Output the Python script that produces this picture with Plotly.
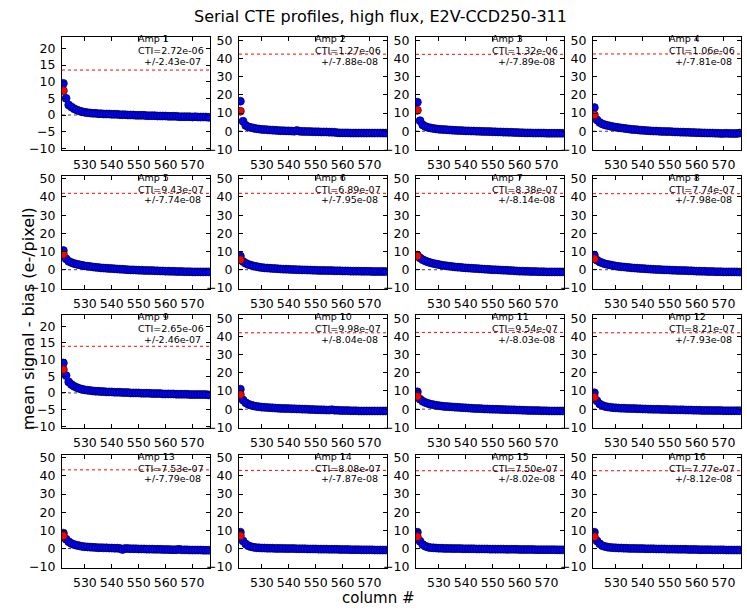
import plotly.graph_objects as go
from plotly.subplots import make_subplots

COLUMNS = list(range(522, 577))

AMP_LABELS = [f"Amp {i}" for i in range(1, 17)]
CTI = ["2.72e-06", "1.27e-06", "1.32e-06", "1.06e-06",
       "9.43e-07", "6.89e-07", "8.38e-07", "7.74e-07",
       "2.65e-06", "9.98e-07", "9.54e-07", "8.21e-07",
       "7.53e-07", "8.08e-07", "7.50e-07", "7.77e-07"]
CTI_ERR = ["2.43e-07", "7.88e-08", "7.89e-08", "7.81e-08",
           "7.74e-08", "7.95e-08", "8.14e-08", "7.98e-08",
           "2.46e-07", "8.04e-08", "8.03e-08", "7.93e-08",
           "7.79e-08", "7.87e-08", "8.02e-08", "8.12e-08"]

amp1 = [9.5,5.0,3.0,2.4,1.9,1.5,1.2,1.0,0.8,0.7, 0.6,0.5,0.5,0.4,0.4,0.3,0.3,0.3,0.2,0.2,
        0.2,0.1,0.1,0.1,0.0,0.0,0.0,-0.1,-0.1,-0.1, -0.1,-0.2,-0.2,-0.2,-0.2,-0.3,-0.3,-0.3,-0.3,-0.4,
        -0.4,-0.4,-0.4,-0.5,-0.5,-0.5,-0.5,-0.5,-0.6,-0.5, -0.6,-0.6,-0.6,-0.6,-0.7]
amp2 = [16.5,5.5,3.2,2.4,2.0,1.7,1.4,1.2,1.0,0.9, 0.8,0.7,0.6,0.5,0.4,0.3,0.3,0.2,0.2,0.1,
        0.0,0.4,0.0,-0.1,-0.1,-0.2,-0.2,-0.3,-0.3,-0.3, -0.4,-0.4,-0.4,-0.5,-0.5,-0.6,-0.8,-0.9,-0.9,-0.9,
        -0.9,-1.0,-1.0,-1.0,-1.0,-1.0,-1.0,-1.0,-1.0,-1.0, -1.0,-1.0,-1.0,-1.0,-1.0]
amp3 = [16.0,5.8,3.5,2.6,2.1,1.8,1.5,1.3,1.1,1.0, 0.9,0.8,0.7,0.6,0.5,0.4,0.4,0.3,0.2,0.2,
        0.1,0.1,0.0,0.0,-0.1,-0.1,-0.2,-0.2,-0.3,-0.3, -0.4,-0.4,-0.5,-0.5,-0.6,-0.6,-0.7,-0.7,-0.8,-0.8,
        -0.9,-0.9,-0.9,-1.0,-1.0,-1.0,-1.0,-1.0,-1.1,-1.1, -1.1,-1.1,-1.1,-1.1,-1.1]
amp4 = [13.0,6.2,4.8,4.0,3.5,3.1,2.8,2.5,2.2,2.0, 1.8,1.6,1.4,1.2,1.0,0.9,0.8,0.6,0.5,0.4,
        0.3,0.2,0.1,0.1,0.0,-0.1,-0.1,-0.2,-0.2,-0.3, -0.4,-0.4,-0.5,-0.5,-0.6,-0.6,-0.7,-0.7,-0.8,-0.8,
        -0.9,-0.9,-1.0,-1.0,-1.0,-1.1,-1.1,-1.2,-1.2,-1.1, -1.2,-1.2,-1.3,-1.2,-1.0]
amp5 = [10.5,6.0,4.6,3.9,3.4,3.0,2.7,2.4,2.1,1.9, 1.7,1.5,1.3,1.2,1.0,0.9,0.8,0.7,0.6,0.5,
        0.4,0.3,0.2,0.1,0.0,-0.1,-0.1,-0.2,-0.3,-0.3, -0.4,-0.4,-0.5,-0.5,-0.6,-0.6,-0.7,-0.7,-0.8,-0.8,
        -0.9,-0.9,-1.0,-1.0,-1.0,-1.1,-1.1,-1.1,-1.2,-1.2, -1.2,-1.2,-1.2,-1.2,-1.2]
amp6 = [7.5,4.5,3.5,2.9,2.4,2.0,1.7,1.4,1.2,1.0, 0.9,0.8,0.7,0.6,0.5,0.4,0.3,0.3,0.2,0.1,
        0.1,0.0,0.0,-0.1,-0.1,-0.2,-0.2,-0.3,-0.3,-0.4, -0.4,-0.4,-0.5,-0.5,-0.5,-0.6,-0.6,-0.6,-0.7,-0.7,
        -0.7,-0.8,-0.8,-0.8,-0.8,-0.9,-0.9,-0.9,-0.9,-1.0, -1.0,-1.0,-1.0,-1.0,-1.0]
amp7 = [8.0,6.5,5.5,4.8,4.2,3.8,3.4,3.1,2.8,2.5, 2.3,2.1,1.9,1.7,1.5,1.4,1.3,1.1,1.0,0.9,
        0.8,0.7,0.6,0.5,0.4,0.3,0.2,0.1,0.0,0.0, -0.1,-0.2,-0.3,-0.3,-0.4,-0.5,-0.6,-0.7,-0.8,-0.8,
        -0.9,-0.9,-1.0,-1.0,-1.0,-1.1,-1.1,-1.1,-1.2,-1.2, -1.2,-1.2,-1.2,-1.2,-1.2]
amp8 = [8.0,5.2,4.3,3.7,3.2,2.9,2.6,2.3,2.0,1.8, 1.6,1.5,1.3,1.2,1.0,0.9,0.8,0.7,0.6,0.5,
        0.4,0.3,0.2,0.1,0.1,0.0,-0.1,-0.1,-0.2,-0.3, -0.3,-0.4,-0.4,-0.5,-0.5,-0.6,-0.6,-0.7,-0.8,-0.8,
        -0.9,-0.9,-1.0,-1.0,-1.0,-1.1,-1.1,-1.1,-1.2,-1.2, -1.2,-1.2,-1.2,-1.2,-1.3]
amp9 = [9.0,5.2,3.3,2.5,2.0,1.6,1.3,1.1,0.9,0.8, 0.7,0.6,0.5,0.5,0.4,0.4,0.3,0.3,0.3,0.2,
        0.2,0.2,0.1,0.1,0.1,0.0,0.0,0.0,0.0,-0.1, -0.1,-0.1,-0.1,-0.2,-0.2,-0.2,-0.2,-0.3,-0.3,-0.3,
        -0.3,-0.3,-0.4,-0.4,-0.4,-0.4,-0.4,-0.5,-0.5,-0.5, -0.5,-0.5,-0.5,-0.5,-0.6]
amp10 = [11.0,5.0,3.5,2.7,2.2,1.8,1.5,1.3,1.1,1.0, 0.9,0.8,0.7,0.6,0.5,0.4,0.4,0.3,0.3,0.2,
         0.2,0.1,0.1,0.0,0.0,-0.1,-0.2,-0.2,-0.3,-0.3, -0.4,-0.4,-0.5,-0.5,-0.3,-0.6,-0.6,-0.7,-0.8,-0.8,
         -0.8,-0.9,-0.9,-0.9,-1.0,-1.0,-1.0,-1.0,-1.0,-1.0, -1.0,-1.0,-1.0,-1.0,-1.0]
amp11 = [9.5,5.5,4.3,3.6,3.1,2.7,2.4,2.1,1.9,1.7, 1.5,1.4,1.3,1.2,1.1,1.0,0.9,0.8,0.7,0.6,
         0.5,0.4,0.3,0.3,0.2,0.1,0.1,0.0,0.0,-0.1, -0.1,-0.2,-0.2,-0.3,-0.3,-0.4,-0.4,-0.5,-0.5,-0.6,
         -0.6,-0.7,-0.7,-0.8,-0.8,-0.8,-0.9,-0.9,-0.9,-1.0, -1.0,-1.0,-1.0,-1.0,-1.0]
amp12 = [9.0,4.5,2.8,2.0,1.5,1.2,1.0,0.8,0.7,0.6, 0.5,0.5,0.4,0.4,0.3,0.3,0.2,0.2,0.1,0.1,
         0.0,0.0,-0.1,-0.1,-0.1,-0.2,-0.2,-0.2,-0.3,-0.3, -0.3,-0.4,-0.4,-0.4,-0.5,-0.5,-0.5,-0.6,-0.6,-0.6,
         -0.7,-0.7,-0.7,-0.7,-0.8,-0.8,-0.8,-0.8,-0.9,-0.9, -0.9,-0.9,-0.9,-0.9,-0.9]
amp13 = [8.5,5.2,3.8,2.8,2.2,1.8,1.5,1.2,1.0,0.9, 0.8,0.7,0.6,0.5,0.5,0.4,0.4,0.3,0.3,0.2,
         0.2,0.1,-0.5,0.1,0.0,-0.1,-0.1,-0.1,-0.2,-0.2, -0.2,-0.3,-0.3,-0.3,-0.4,-0.4,-0.4,-0.5,-0.5,-0.5,
         -0.6,-0.6,-0.6,-0.4,-0.7,-0.7,-0.7,-0.8,-0.8,-0.8, -0.8,-0.8,-0.9,-0.9,-0.9]
amp14 = [9.0,4.2,2.5,1.5,1.0,0.7,0.5,0.4,0.3,0.3, 0.2,0.2,0.2,0.1,0.1,0.1,0.1,0.0,0.0,0.0,
         0.0,-0.1,-0.1,-0.1,-0.1,-0.2,-0.2,-0.2,-0.2,-0.3, -0.3,-0.3,-0.3,-0.4,-0.4,-0.4,-0.4,-0.5,-0.5,-0.5,
         -0.5,-0.6,-0.6,-0.6,-0.6,-0.7,-0.7,-0.7,-0.7,-0.7, -0.8,-0.8,-0.8,-0.8,-0.8]
amp15 = [9.0,4.0,2.2,1.3,0.8,0.5,0.4,0.3,0.2,0.2, 0.1,0.1,0.1,0.0,0.0,0.0,0.0,-0.1,-0.1,-0.1,
         -0.1,-0.1,-0.2,-0.2,-0.2,-0.2,-0.2,-0.3,-0.3,-0.3, -0.3,-0.3,-0.3,-0.4,-0.4,-0.4,-0.4,-0.4,-0.5,-0.5,
         -0.5,-0.5,-0.5,-0.5,-0.6,-0.6,-0.6,-0.6,-0.6,-0.6, -0.6,-0.6,-0.7,-0.7,-0.7]
amp16 = [9.0,4.2,2.6,1.6,1.1,0.8,0.6,0.5,0.4,0.3, 0.3,0.2,0.2,0.1,0.1,0.1,0.0,0.0,0.0,-0.1,
         -0.1,-0.1,-0.1,-0.2,-0.2,-0.2,-0.2,-0.3,-0.3,-0.3, -0.3,-0.4,-0.4,-0.4,-0.4,-0.5,-0.5,-0.5,-0.5,-0.6,
         -0.6,-0.6,-0.6,-0.6,-0.7,-0.7,-0.7,-0.7,-0.7,-0.8, -0.8,-0.8,-0.8,-0.8,-0.8]

PROFILES = [amp1, amp2, amp3, amp4, amp5, amp6, amp7, amp8,
            amp9, amp10, amp11, amp12, amp13, amp14, amp15, amp16]

# predicted value at the last imaging column (red point)
RED_COLUMN = 522
RED_VALUES = [7.3, 11.0, 11.5, 9.0, 8.5, 5.5, 7.5, 6.0,
              7.0, 8.0, 7.0, 6.5, 7.0, 7.0, 6.5, 6.5]
# red dotted reference level
RED_LEVELS = [13.5, 42.4, 42.3, 42.5, 42.0, 42.0, 42.0, 41.8,
              14.0, 42.0, 42.2, 42.0, 43.3, 43.0, 42.8, 42.8]

SMALL_RANGE = [-10.6, 23.3]
LARGE_RANGE = [-10.5, 51.6]
X_RANGE = [521.5, 576.5]

W, H = 747, 611
COL_LEFT = [62, 239, 416, 593]
PANEL_W = 148
ROW_TOP = [33, 174, 316, 458]
PANEL_H = 115

FONT = "DejaVu Sans"

fig = make_subplots(rows=4, cols=4)

for i in range(16):
    r, c = i // 4 + 1, i % 4 + 1
    small = RED_LEVELS[i] < 20
    yr = SMALL_RANGE if small else LARGE_RANGE
    # zero line
    fig.add_trace(go.Scatter(x=X_RANGE, y=[0, 0], mode="lines",
                             line=dict(color="#444444", width=1, dash="dot"),
                             showlegend=False, hoverinfo="skip"), row=r, col=c)
    # red reference level
    fig.add_trace(go.Scatter(x=X_RANGE, y=[RED_LEVELS[i]] * 2, mode="lines",
                             line=dict(color="red", width=1, dash="dot"),
                             showlegend=False, hoverinfo="skip"), row=r, col=c)
    fig.add_trace(go.Scatter(x=COLUMNS, y=PROFILES[i], mode="markers",
                             marker=dict(color="#0000ff", size=8,
                                         line=dict(color="#000033", width=0.7)),
                             showlegend=False), row=r, col=c)
    fig.add_trace(go.Scatter(x=[RED_COLUMN], y=[RED_VALUES[i]], mode="markers",
                             marker=dict(color="#ff0000", size=8,
                                         line=dict(color="#330000", width=0.7)),
                             showlegend=False), row=r, col=c)

    idx = "" if i == 0 else str(i + 1)
    x0 = COL_LEFT[c - 1] / W
    x1 = (COL_LEFT[c - 1] + PANEL_W) / W
    y1 = 1 - ROW_TOP[r - 1] / H
    y0 = 1 - (ROW_TOP[r - 1] + PANEL_H) / H
    axis_common = dict(showline=True, linecolor="black", linewidth=1, mirror="allticks",
                       ticks="inside", ticklen=4, tickwidth=1, tickcolor="black",
                       showgrid=False, zeroline=False,
                       tickfont=dict(family=FONT, size=12.5, color="black"))
    fig.layout["xaxis" + idx].update(domain=[x0, x1], range=X_RANGE, tick0=530, dtick=10,
                                     ticklabelstandoff=3, **axis_common)
    fig.layout["yaxis" + idx].update(domain=[y0, y1], range=yr, tick0=0,
                                     dtick=5 if small else 10,
                                     ticklabelstandoff=3, **axis_common)

    xd = "x" + idx + " domain"
    yd = "y" + idx + " domain"
    fig.add_annotation(x=73.5 / PANEL_W, y=1 - 1.5 / PANEL_H, xref=xd, yref=yd,
                       text=AMP_LABELS[i], showarrow=False, xanchor="left", yanchor="middle",
                       font=dict(family=FONT, size=9.5, color="black"))
    fig.add_annotation(x=73.5 / PANEL_W, y=1 - 13.5 / PANEL_H, xref=xd, yref=yd,
                       text="CTI=" + CTI[i], showarrow=False, xanchor="left", yanchor="middle",
                       font=dict(family=FONT, size=9.5, color="black"))
    fig.add_annotation(x=141 / PANEL_W, y=1 - 24.5 / PANEL_H, xref=xd, yref=yd,
                       text="+/-" + CTI_ERR[i], showarrow=False, xanchor="right", yanchor="middle",
                       font=dict(family=FONT, size=9.5, color="black"))

fig.add_annotation(x=380 / W, y=1 - 12 / H, xref="paper", yref="paper",
                   text="Serial CTE profiles, high flux, E2V-CCD250-311", showarrow=False,
                   xanchor="center", yanchor="middle",
                   font=dict(family=FONT, size=16, color="black"))
fig.add_annotation(x=378 / W, y=1 - 604 / H, xref="paper", yref="paper",
                   text="column #", showarrow=False, xanchor="center", yanchor="middle",
                   font=dict(family=FONT, size=15, color="black"))
fig.add_annotation(x=28 / W, y=1 - 320 / H, xref="paper", yref="paper",
                   text="mean signal - bias (e-/pixel)", showarrow=False, textangle=-90,
                   xanchor="center", yanchor="middle",
                   font=dict(family=FONT, size=16, color="black"))

fig.update_layout(width=W, height=H, margin=dict(l=0, r=0, t=0, b=0),
                  paper_bgcolor="white", plot_bgcolor="white",
                  font=dict(family=FONT, color="black"))

fig.write_html("out.html")
